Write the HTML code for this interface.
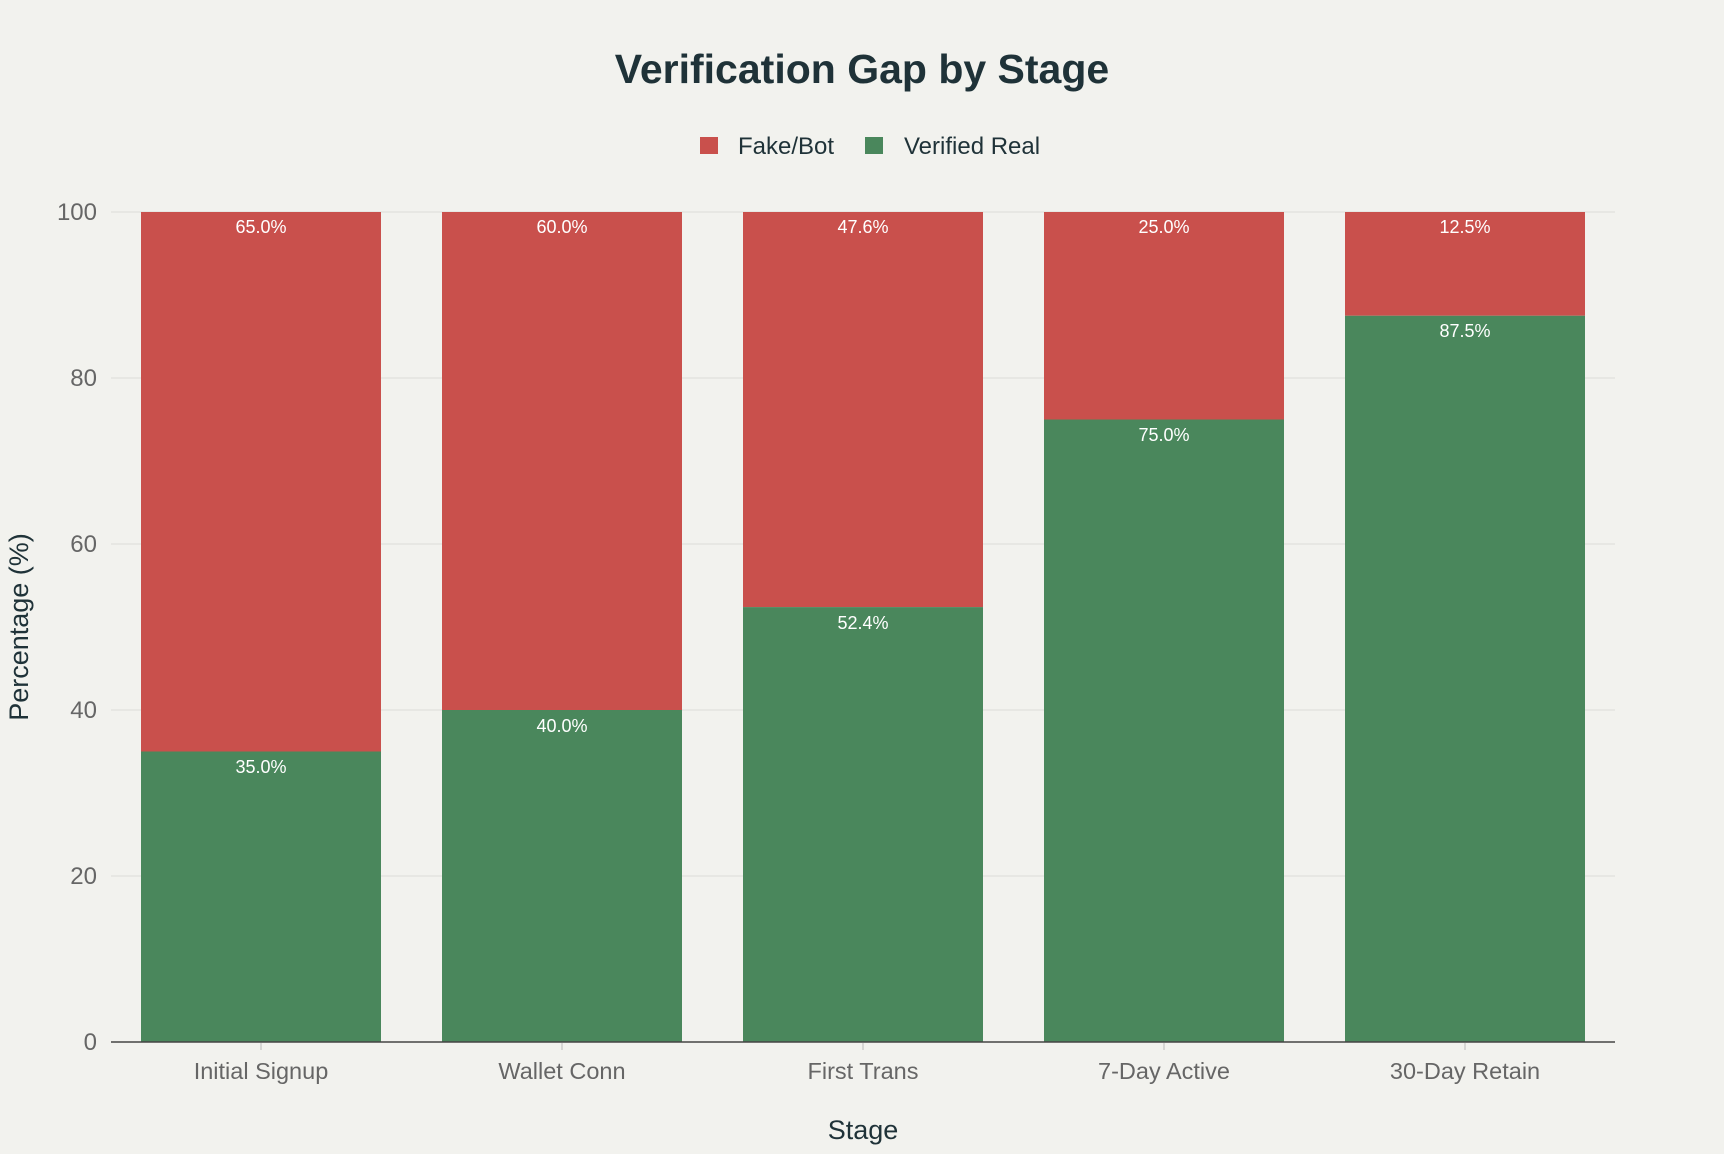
<!DOCTYPE html>
<html><head><meta charset="utf-8"><style>
html,body{margin:0;padding:0;background:#F2F2EE;}
svg{display:block;font-family:"Liberation Sans",sans-serif;}
</style></head><body>
<svg width="1724" height="1154" viewBox="0 0 1724 1154" xmlns="http://www.w3.org/2000/svg">
<rect width="1724" height="1154" fill="#F2F2EE"/>
<text x="862" y="83" text-anchor="middle" font-size="41" font-weight="bold" fill="#1F3238">Verification Gap by Stage</text>
<rect x="700" y="137" width="18" height="17" fill="#C9504C"/>
<text x="738" y="154" font-size="24" fill="#1F3238">Fake/Bot</text>
<rect x="865" y="137" width="18" height="17" fill="#4A875C"/>
<text x="904" y="154" font-size="24" fill="#1F3238">Verified Real</text>
<g stroke="#DCDCD8" stroke-width="1">
<line x1="111" x2="1615" y1="212" y2="212"/>
<line x1="111" x2="1615" y1="378" y2="378"/>
<line x1="111" x2="1615" y1="544" y2="544"/>
<line x1="111" x2="1615" y1="710" y2="710"/>
<line x1="111" x2="1615" y1="876" y2="876"/>
</g>
<g font-size="24" fill="#666" text-anchor="end">
<text x="97" y="220">100</text>
<text x="97" y="386">80</text>
<text x="97" y="552">60</text>
<text x="97" y="718">40</text>
<text x="97" y="884">20</text>
<text x="97" y="1050">0</text>
</g>
<text transform="translate(28,627) rotate(-90)" text-anchor="middle" font-size="27" fill="#1F3238">Percentage (%)</text>
<g>
<rect x="141" y="212" width="240" height="539.5" fill="#C9504C"/>
<rect x="141" y="751.5" width="240" height="290.5" fill="#4A875C"/>
<rect x="442" y="212" width="240" height="498" fill="#C9504C"/>
<rect x="442" y="710" width="240" height="332" fill="#4A875C"/>
<rect x="743" y="212" width="240" height="395.1" fill="#C9504C"/>
<rect x="743" y="607.1" width="240" height="434.9" fill="#4A875C"/>
<rect x="1044" y="212" width="240" height="207.5" fill="#C9504C"/>
<rect x="1044" y="419.5" width="240" height="622.5" fill="#4A875C"/>
<rect x="1345" y="212" width="240" height="103.75" fill="#C9504C"/>
<rect x="1345" y="315.75" width="240" height="726.25" fill="#4A875C"/>
</g>
<g font-size="18" fill="#fff" text-anchor="middle">
<text x="261" y="233">65.0%</text>
<text x="261" y="773">35.0%</text>
<text x="562" y="233">60.0%</text>
<text x="562" y="732">40.0%</text>
<text x="863" y="233">47.6%</text>
<text x="863" y="629">52.4%</text>
<text x="1164" y="233">25.0%</text>
<text x="1164" y="441">75.0%</text>
<text x="1465" y="233">12.5%</text>
<text x="1465" y="337">87.5%</text>
</g>
<line x1="111" x2="1615" y1="1042" y2="1042" stroke="#444" stroke-width="1.5"/>
<g stroke="#bbb"><line x1="261" x2="261" y1="1043" y2="1050"/><line x1="562" x2="562" y1="1043" y2="1050"/><line x1="863" x2="863" y1="1043" y2="1050"/><line x1="1164" x2="1164" y1="1043" y2="1050"/><line x1="1465" x2="1465" y1="1043" y2="1050"/></g>
<g font-size="23.5" fill="#666" text-anchor="middle">
<text x="261" y="1079">Initial Signup</text>
<text x="562" y="1079">Wallet Conn</text>
<text x="863" y="1079">First Trans</text>
<text x="1164" y="1079">7-Day Active</text>
<text x="1465" y="1079">30-Day Retain</text>
</g>
<text x="863" y="1139" text-anchor="middle" font-size="27" fill="#1F3238">Stage</text>
</svg>
</body></html>
